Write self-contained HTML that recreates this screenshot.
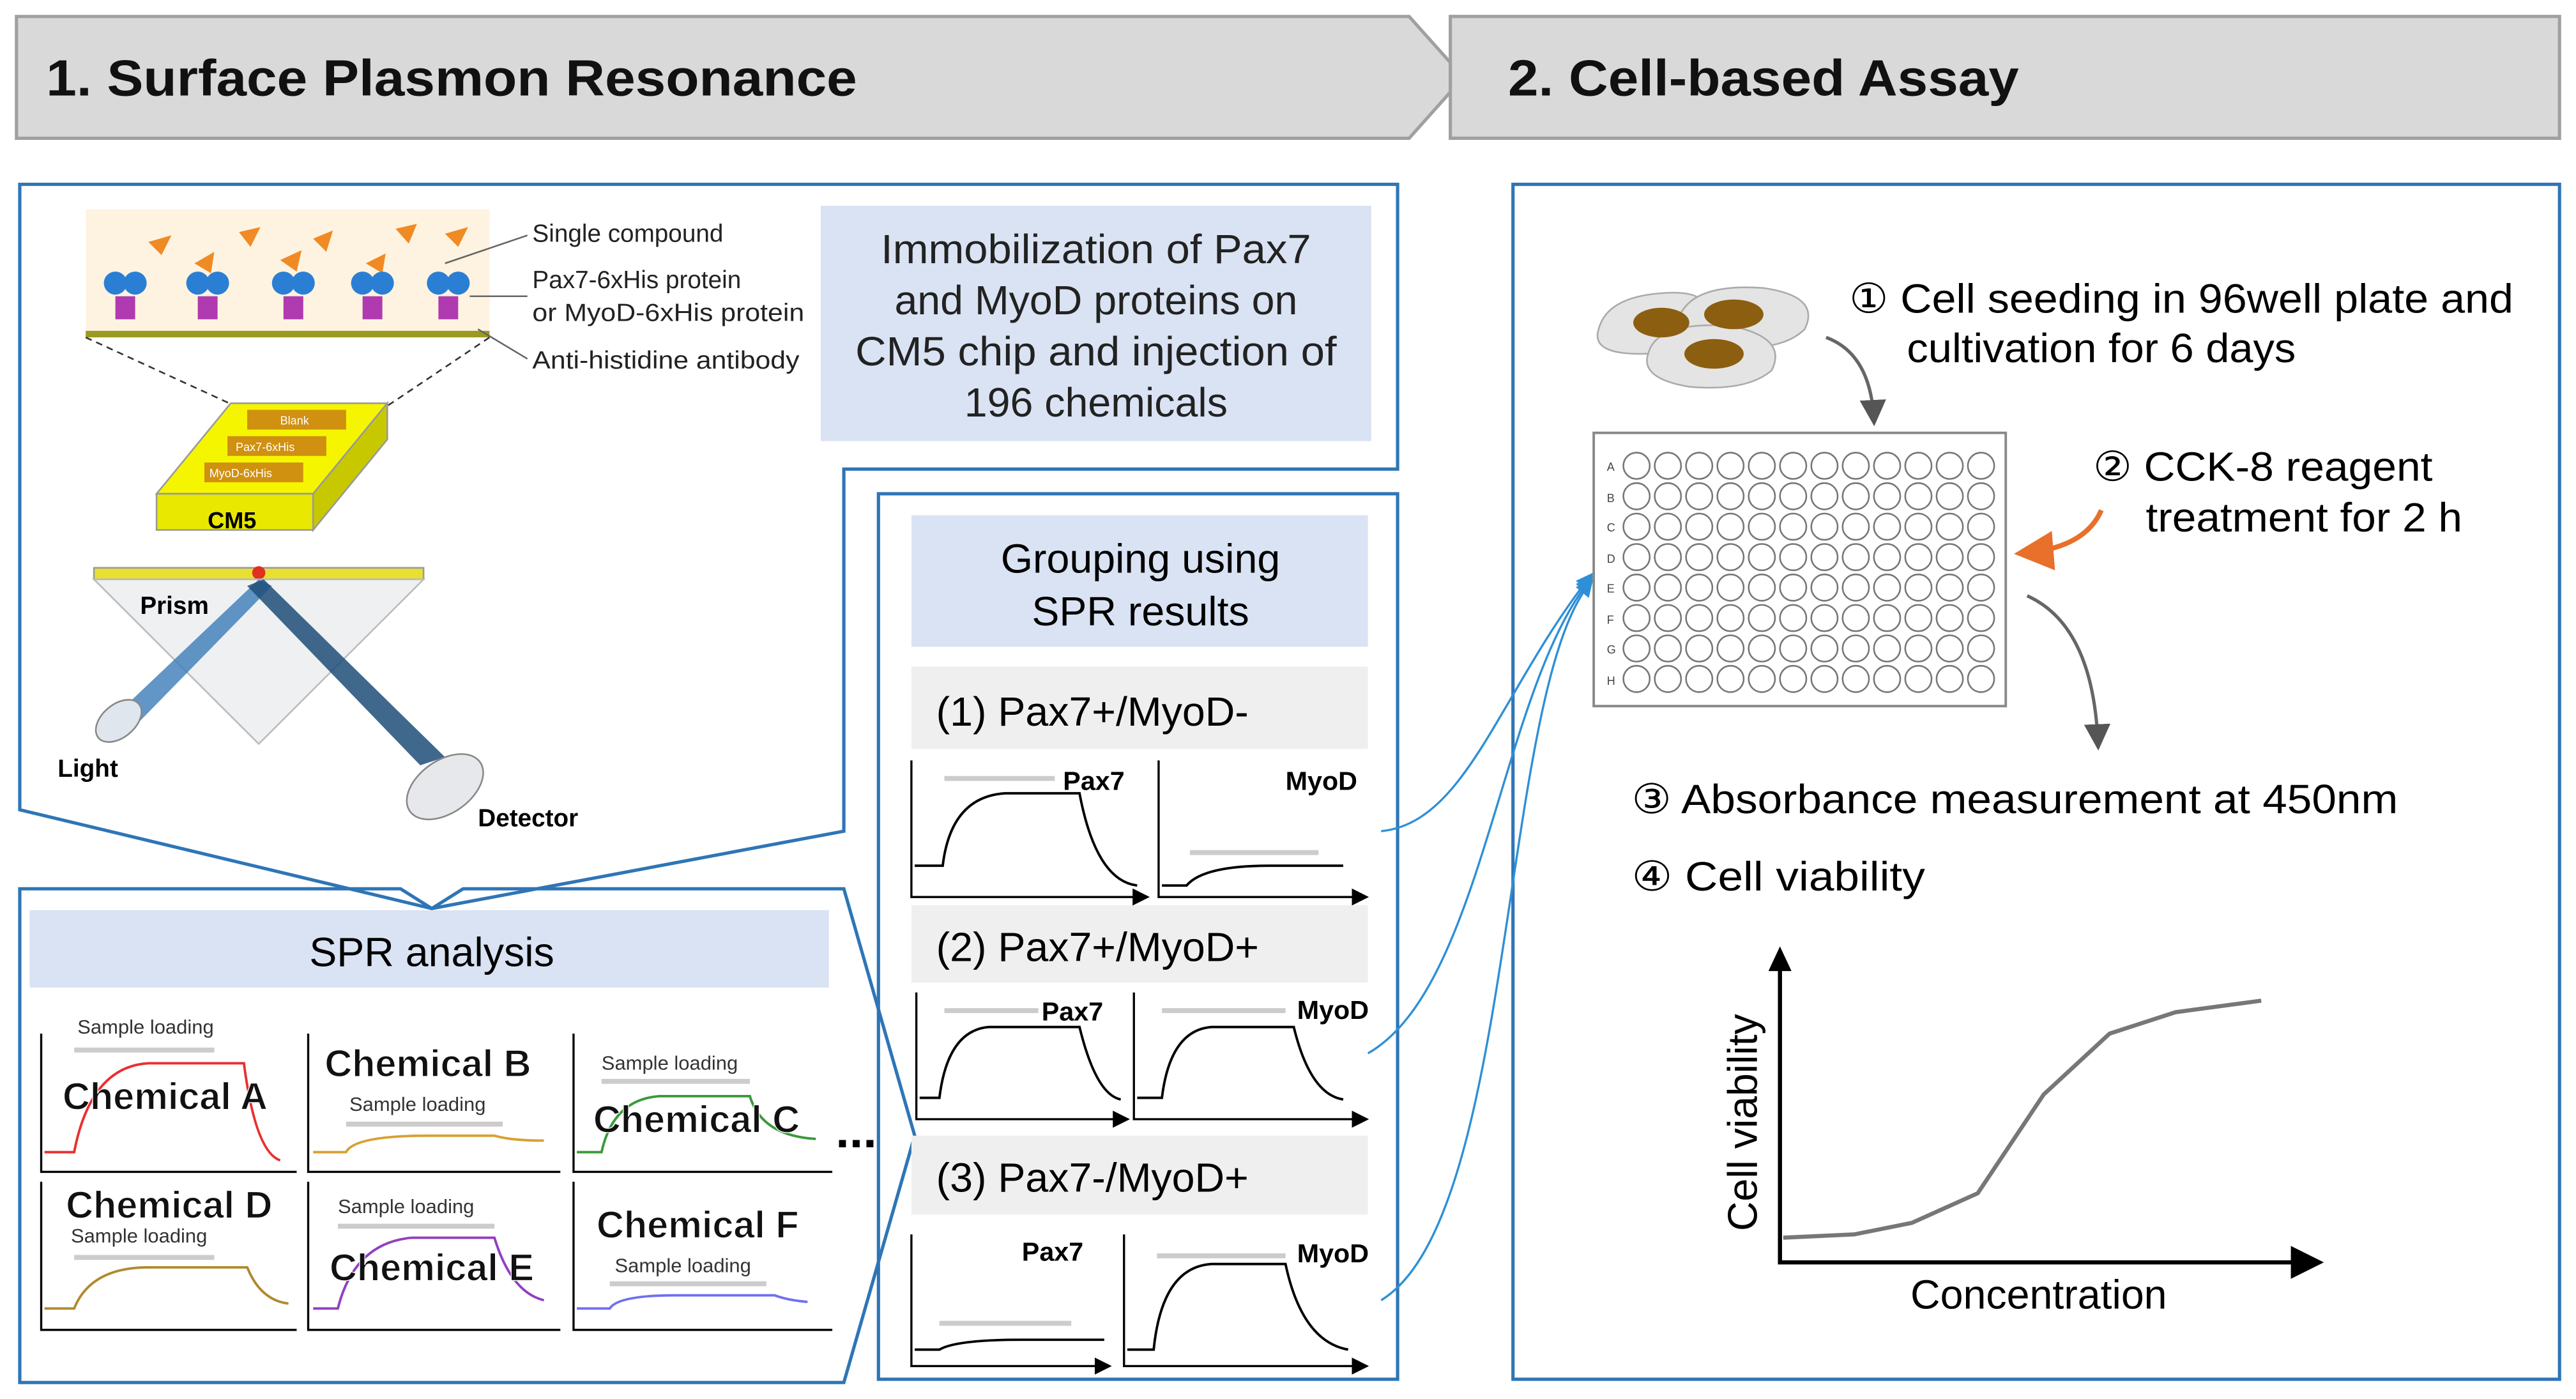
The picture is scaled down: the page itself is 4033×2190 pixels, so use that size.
<!DOCTYPE html>
<html><head><meta charset="utf-8"><style>html,body{margin:0;padding:0;background:#fff}svg{display:block}text{font-family:"Liberation Sans",sans-serif}</style></head><body>
<svg width="4033" height="2190" viewBox="0 0 1563 850" preserveAspectRatio="none" xmlns="http://www.w3.org/2000/svg">
<defs>
<marker id="ah" markerWidth="8" markerHeight="8" refX="6" refY="4" orient="auto"><path d="M0,0 L8,4 L0,8 Z" fill="#555"/></marker>
<marker id="ab" markerWidth="8" markerHeight="8" refX="6" refY="4" orient="auto"><path d="M0,0 L8,4 L0,8 Z" fill="#2e8fd6"/></marker>
<marker id="ao" markerWidth="8" markerHeight="8" refX="6" refY="4" orient="auto"><path d="M0,0 L8,4 L0,8 Z" fill="#e8702a"/></marker>
<marker id="ak" markerWidth="8" markerHeight="8" refX="6" refY="4" orient="auto"><path d="M0,0 L8,4 L0,8 Z" fill="#000"/></marker>
</defs>
<!-- headers -->
<polygon points="10,10 855,10 888,47 855,84 10,84" fill="#d9d9d9" stroke="#a0a0a0" stroke-width="2"/>
<text x="28" y="58" font-size="31" font-weight="bold" fill="#111" textLength="492" lengthAdjust="spacingAndGlyphs">1. Surface Plasmon Resonance</text>
<rect x="880" y="10" width="673" height="74" fill="#d9d9d9" stroke="#a0a0a0" stroke-width="2"/>
<text x="915" y="58" font-size="31" font-weight="bold" fill="#111" textLength="310" lengthAdjust="spacingAndGlyphs">2. Cell-based Assay</text>
<!-- left outlines -->
<path d="M12,112 H848 V285 H512 V505 L262,552 L12,492 Z" fill="none" stroke="#2e75b6" stroke-width="2"/>
<path d="M12,540 H243 L262,552 L281,540 H512 L555,690 L512,840 H12 Z" fill="none" stroke="#2e75b6" stroke-width="2"/>
<rect x="533" y="300" width="315" height="538" fill="none" stroke="#2e75b6" stroke-width="2"/>
<rect x="918" y="112" width="635" height="726" fill="none" stroke="#2e75b6" stroke-width="2"/>
<!-- SPR chip diagram -->
<rect x="52" y="127" width="245" height="75" fill="#fdf3e0"/>
<line x1="52" y1="203" x2="297" y2="203" stroke="#9a9a20" stroke-width="4"/>
<g fill="#f08a24">
<polygon points="90,147 104,143 98,155"/><polygon points="118,160 130,153 128,166"/><polygon points="145,141 158,138 152,150"/><polygon points="170,158 183,152 180,165"/><polygon points="190,145 202,140 198,153"/><polygon points="222,160 234,154 232,166"/><polygon points="240,139 253,136 248,148"/><polygon points="270,142 284,138 278,150"/>
</g>
<g>
<circle cx="70" cy="172" r="7" fill="#2a7fd4"/><circle cx="82" cy="172" r="7" fill="#2a7fd4"/><rect x="70" y="180" width="12" height="14" fill="#b03ab0"/>
<circle cx="120" cy="172" r="7" fill="#2a7fd4"/><circle cx="132" cy="172" r="7" fill="#2a7fd4"/><rect x="120" y="180" width="12" height="14" fill="#b03ab0"/>
<circle cx="172" cy="172" r="7" fill="#2a7fd4"/><circle cx="184" cy="172" r="7" fill="#2a7fd4"/><rect x="172" y="180" width="12" height="14" fill="#b03ab0"/>
<circle cx="220" cy="172" r="7" fill="#2a7fd4"/><circle cx="232" cy="172" r="7" fill="#2a7fd4"/><rect x="220" y="180" width="12" height="14" fill="#b03ab0"/>
<circle cx="266" cy="172" r="7" fill="#2a7fd4"/><circle cx="278" cy="172" r="7" fill="#2a7fd4"/><rect x="266" y="180" width="12" height="14" fill="#b03ab0"/>
</g>
<text x="323" y="147" font-size="15" fill="#222">Single compound</text>
<text x="323" y="175" font-size="15" fill="#222">Pax7-6xHis protein</text>
<text x="323" y="195" font-size="15" fill="#222" textLength="165" lengthAdjust="spacingAndGlyphs">or MyoD-6xHis protein</text>
<text x="323" y="224" font-size="15" fill="#222" textLength="162" lengthAdjust="spacingAndGlyphs">Anti-histidine antibody</text>
<line x1="270" y1="160" x2="320" y2="143" stroke="#666"/>
<line x1="285" y1="180" x2="320" y2="180" stroke="#666"/>
<line x1="290" y1="200" x2="320" y2="218" stroke="#666"/>
<line x1="52" y1="205" x2="150" y2="250" stroke="#333" stroke-dasharray="4,3"/>
<line x1="297" y1="205" x2="230" y2="250" stroke="#333" stroke-dasharray="4,3"/>
<polygon points="95,300 140,245 235,245 190,300" fill="#f5f500" stroke="#999"/>
<polygon points="95,300 190,300 190,322 95,322" fill="#e8e800" stroke="#999"/>
<polygon points="190,300 235,245 235,267 190,322" fill="#c8c800" stroke="#999"/>
<rect x="150" y="249" width="60" height="12" fill="#d09010"/>
<rect x="138" y="265" width="60" height="12" fill="#d09010"/>
<rect x="124" y="281" width="60" height="12" fill="#d09010"/>
<text x="170" y="258" font-size="7" fill="#fff">Blank</text>
<text x="143" y="274" font-size="7" fill="#fff">Pax7-6xHis</text>
<text x="127" y="290" font-size="7" fill="#fff">MyoD-6xHis</text>
<text x="126" y="321" font-size="14" font-weight="bold">CM5</text>
<rect x="57" y="345" width="200" height="7" fill="#e8e030" stroke="#999"/>
<circle cx="157" cy="348" r="4" fill="#e03020"/>
<polygon points="57,352 257,352 157,452" fill="#eef0f2" stroke="#bbb"/>
<text x="85" y="373" font-size="15" font-weight="bold">Prism</text>
<polygon points="75,430 157,352 165,356 85,438" fill="#3a7cb8" opacity="0.8"/>
<polygon points="150,356 160,352 270,460 255,465" fill="#1f4e79" opacity="0.85"/>
<ellipse cx="72" cy="438" rx="16" ry="10" fill="#e0e6ee" stroke="#888" transform="rotate(-40 72 438)"/>
<text x="35" y="472" font-size="15" font-weight="bold">Light</text>
<ellipse cx="270" cy="478" rx="26" ry="16" fill="#e6e8ec" stroke="#888" transform="rotate(-35 270 478)"/>
<text x="290" y="502" font-size="15" font-weight="bold">Detector</text>
<!-- immobilization box -->
<rect x="498" y="125" width="334" height="143" fill="#dae3f3"/>
<g font-size="25" text-anchor="middle" fill="#222">
<text x="665" y="160" textLength="261" lengthAdjust="spacingAndGlyphs">Immobilization  of Pax7</text>
<text x="665" y="191">and MyoD proteins on</text>
<text x="665" y="222" textLength="292" lengthAdjust="spacingAndGlyphs">CM5 chip and injection of</text>
<text x="665" y="253">196 chemicals</text>
</g>
<!-- SPR analysis -->
<rect x="18" y="553" width="485" height="47" fill="#dae3f3"/>
<text x="262" y="587" font-size="25" text-anchor="middle">SPR analysis</text>
<g stroke="#000" stroke-width="1.3" fill="none">
<path d="M25,628 V712 H180"/><path d="M187,628 V712 H340"/><path d="M348,628 V712 H505"/>
<path d="M25,718 V808 H180"/><path d="M187,718 V808 H340"/><path d="M348,718 V808 H505"/>
</g>
<g stroke="#ccc" stroke-width="3"><line x1="45" y1="638" x2="130" y2="638"/><line x1="210" y1="683" x2="305" y2="683"/><line x1="365" y1="657" x2="455" y2="657"/><line x1="45" y1="764" x2="130" y2="764"/><line x1="205" y1="745" x2="300" y2="745"/><line x1="370" y1="780" x2="465" y2="780"/></g>
<g fill="none" stroke-width="1.5">
<path d="M27,700 H45 Q55,648 90,646 H148 Q155,700 170,705" stroke="#e83030"/>
<path d="M190,700 H210 Q215,690 260,690 H300 Q310,693 330,693" stroke="#d8a030"/>
<path d="M350,700 H365 Q372,668 400,666 H455 Q462,690 495,692" stroke="#3a9a3a"/>
<path d="M27,795 H45 Q55,770 90,770 H150 Q158,790 175,792" stroke="#b08a30"/>
<path d="M190,795 H205 Q215,755 250,752 H300 Q310,785 330,790" stroke="#9040c0"/>
<path d="M350,795 H370 Q375,787 410,787 H470 Q478,790 490,791" stroke="#7070f0"/>
</g>
<g font-size="12" fill="#333"><text x="47" y="628">Sample loading</text><text x="212" y="675">Sample loading</text><text x="365" y="650">Sample loading</text><text x="43" y="755">Sample loading</text><text x="205" y="737">Sample loading</text><text x="373" y="773">Sample loading</text></g>
<g font-size="23" font-weight="bold" fill="#111" stroke="#fff" stroke-width="0.5"><text x="38" y="674">Chemical A</text><text x="197" y="654">Chemical B</text><text x="360" y="688">Chemical C</text><text x="40" y="740">Chemical D</text><text x="200" y="778">Chemical E</text><text x="362" y="752">Chemical F</text></g>
<text x="507" y="697" font-size="30" font-weight="bold">...</text>
<!-- grouping -->
<rect x="553" y="313" width="277" height="80" fill="#dae3f3"/>
<text x="692" y="348" font-size="25" text-anchor="middle">Grouping using</text>
<text x="692" y="380" font-size="25" text-anchor="middle">SPR results</text>
<rect x="553" y="405" width="277" height="50" fill="#efefef"/><text x="568" y="441" font-size="25">(1) Pax7+/MyoD-</text>
<rect x="553" y="550" width="277" height="47" fill="#efefef"/><text x="568" y="584" font-size="25">(2) Pax7+/MyoD+</text>
<rect x="553" y="690" width="277" height="48" fill="#efefef"/><text x="568" y="724" font-size="25">(3) Pax7-/MyoD+</text>
<g stroke="#000" stroke-width="1.3" fill="none">
<path d="M553,462 V545 H695" marker-end="url(#ak)"/><path d="M703,462 V545 H828" marker-end="url(#ak)"/>
<path d="M556,603 V680 H683" marker-end="url(#ak)"/><path d="M688,603 V680 H828" marker-end="url(#ak)"/>
<path d="M553,750 V830 H672" marker-end="url(#ak)"/><path d="M682,750 V830 H828" marker-end="url(#ak)"/>
</g>
<g stroke="#ccc" stroke-width="3"><line x1="573" y1="473" x2="640" y2="473"/><line x1="722" y1="518" x2="800" y2="518"/><line x1="573" y1="614" x2="630" y2="614"/><line x1="705" y1="614" x2="780" y2="614"/><line x1="570" y1="804" x2="650" y2="804"/><line x1="702" y1="763" x2="780" y2="763"/></g>
<g fill="none" stroke="#000" stroke-width="1.5">
<path d="M555,526 H572 Q577,484 610,482 H655 Q665,535 690,538"/>
<path d="M705,538 H720 Q730,526 770,526 H815"/>
<path d="M558,667 H570 Q575,626 600,624 H655 Q665,665 680,668"/>
<path d="M690,667 H705 Q710,626 735,624 H785 Q795,665 815,668"/>
<path d="M555,820 H570 Q580,814 620,814 H670"/>
<path d="M684,820 H700 Q705,770 735,768 H780 Q790,815 818,820"/>
</g>
<g font-size="16" font-weight="bold"><text x="645" y="480">Pax7</text><text x="780" y="480">MyoD</text><text x="632" y="620">Pax7</text><text x="787" y="619">MyoD</text><text x="620" y="766">Pax7</text><text x="787" y="767">MyoD</text></g>
<!-- blue connectors -->
<g fill="none" stroke="#2e8fd6" stroke-width="1.3">
<path d="M838,505 C890,500 910,420 965,350" marker-end="url(#ab)"/>
<path d="M830,640 C900,600 910,420 965,352" marker-end="url(#ab)"/>
<path d="M838,790 C920,740 910,420 965,354" marker-end="url(#ab)"/>
</g>
<!-- cells -->
<g fill="#e4e4e4" stroke="#aaa">
<path d="M970,200 Q975,180 1010,178 Q1040,176 1035,195 Q1030,215 995,215 Q965,215 970,200 Z"/>
<path d="M1020,190 Q1030,172 1070,175 Q1105,180 1095,200 Q1080,215 1040,210 Q1012,205 1020,190 Z"/>
<path d="M1000,215 Q1005,195 1050,198 Q1085,205 1075,225 Q1060,238 1025,235 Q995,230 1000,215 Z"/>
</g>
<ellipse cx="1008" cy="196" rx="17" ry="9" fill="#8b5e10"/><ellipse cx="1052" cy="191" rx="18" ry="9" fill="#8b5e10"/><ellipse cx="1040" cy="215" rx="18" ry="9" fill="#8b5e10"/>
<path d="M1108,205 Q1135,215 1137,255" fill="none" stroke="#666" stroke-width="2" marker-end="url(#ah)"/>
<text x="1122" y="190" font-size="25" textLength="403" lengthAdjust="spacingAndGlyphs">① Cell seeding in 96well plate and</text>
<text x="1157" y="220" font-size="25" textLength="236" lengthAdjust="spacingAndGlyphs">cultivation for 6 days</text>
<!-- plate -->
<rect x="967" y="263" width="250" height="166" fill="#fff" stroke="#888" stroke-width="1.5"/>
<g id="row" fill="none" stroke="#777" stroke-width="1">
<circle cx="993" cy="283" r="8"/><circle cx="1012" cy="283" r="8"/><circle cx="1031" cy="283" r="8"/><circle cx="1050" cy="283" r="8"/><circle cx="1069" cy="283" r="8"/><circle cx="1088" cy="283" r="8"/><circle cx="1107" cy="283" r="8"/><circle cx="1126" cy="283" r="8"/><circle cx="1145" cy="283" r="8"/><circle cx="1164" cy="283" r="8"/><circle cx="1183" cy="283" r="8"/><circle cx="1202" cy="283" r="8"/>
</g>
<use href="#row" y="18.5"/><use href="#row" y="37"/><use href="#row" y="55.5"/><use href="#row" y="74"/><use href="#row" y="92.5"/><use href="#row" y="111"/><use href="#row" y="129.5"/>
<g font-size="7" fill="#444"><text x="975" y="286">A</text><text x="975" y="305">B</text><text x="975" y="323">C</text><text x="975" y="342">D</text><text x="975" y="360">E</text><text x="975" y="379">F</text><text x="975" y="397">G</text><text x="975" y="416">H</text></g>
<path d="M1275,310 Q1265,333 1228,336" fill="none" stroke="#e8702a" stroke-width="3" marker-end="url(#ao)"/>
<text x="1270" y="292" font-size="25" textLength="206" lengthAdjust="spacingAndGlyphs">② CCK-8 reagent</text>
<text x="1302" y="323" font-size="25" textLength="192" lengthAdjust="spacingAndGlyphs">treatment for 2 h</text>
<path d="M1230,362 Q1270,380 1273,452" fill="none" stroke="#666" stroke-width="2" marker-end="url(#ah)"/>
<text x="990" y="494" font-size="25" textLength="465" lengthAdjust="spacingAndGlyphs">③  Absorbance measurement  at 450nm</text>
<text x="990" y="541" font-size="25" textLength="178" lengthAdjust="spacingAndGlyphs">④  Cell viability</text>
<!-- graph -->
<path d="M1080,580 V767 H1405" fill="none" stroke="#000" stroke-width="2.5" marker-end="url(#ak)"/>
<polygon points="1073,590 1080,575 1087,590" fill="#000"/>
<path d="M1082,752 L1125,750 L1160,743 L1200,725 L1240,665 L1280,628 L1320,615 L1372,608" fill="none" stroke="#777" stroke-width="2.5"/>
<text x="1237" y="795" font-size="25" text-anchor="middle">Concentration</text>
<text transform="translate(1066,682) rotate(-90)" font-size="25" text-anchor="middle">Cell viability</text>
</svg>
</body></html>
